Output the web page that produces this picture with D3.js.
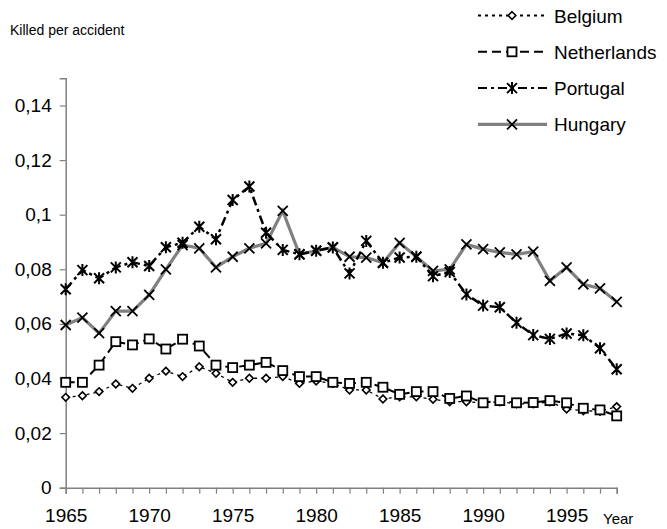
<!DOCTYPE html>
<html>
<head>
<meta charset="utf-8">
<script src="https://cdn.jsdelivr.net/npm/d3@7"></script>
<style>
  body { margin: 0; background: #fff; }
  svg { display: block; font-family: "Liberation Sans", Arial, sans-serif; }
</style>
</head>
<body>
<svg id="chart" width="667" height="529"></svg>
<script>
// data
const years = d3.range(1965, 1999);
const belgium = [0.0331, 0.0337, 0.0352, 0.0380, 0.0364, 0.0401, 0.0427, 0.0407, 0.0443, 0.0419,
  0.0386, 0.0401, 0.0401, 0.0407, 0.0382, 0.0391, 0.0382, 0.0358, 0.0358, 0.0325,
  0.0333, 0.0333, 0.0324, 0.0315, 0.0315, 0.0311, 0.0315, 0.0307, 0.0307, 0.0315,
  0.0288, 0.0282, 0.0280, 0.0297];
const netherlands = [0.0386, 0.0386, 0.0449, 0.0535, 0.0523, 0.0545, 0.0508, 0.0544, 0.0519, 0.0449,
  0.0440, 0.0449, 0.0459, 0.0429, 0.0407, 0.0407, 0.0386, 0.0382, 0.0386, 0.0368,
  0.0342, 0.0352, 0.0352, 0.0327, 0.0336, 0.0311, 0.0319, 0.0311, 0.0312, 0.0319,
  0.0311, 0.0291, 0.0285, 0.0263];
const portugal = [0.0727, 0.0797, 0.0767, 0.0807, 0.0826, 0.0812, 0.0881, 0.0897, 0.0956, 0.0910,
  0.1054, 0.1103, 0.0934, 0.0871, 0.0855, 0.0868, 0.0880, 0.0785, 0.0904, 0.0824,
  0.0843, 0.0846, 0.0775, 0.0790, 0.0708, 0.0667, 0.0661, 0.0604, 0.0559, 0.0545,
  0.0565, 0.0558, 0.0511, 0.0434];
const hungary = [0.0596, 0.0623, 0.0566, 0.0647, 0.0647, 0.0706, 0.0800, 0.0889, 0.0877, 0.0807,
  0.0846, 0.0877, 0.0895, 0.1014, 0.0855, 0.0868, 0.0880, 0.0846, 0.0843, 0.0824,
  0.0897, 0.0846, 0.0794, 0.0800, 0.0891, 0.0874, 0.0862, 0.0855, 0.0865, 0.0758,
  0.0807, 0.0745, 0.0730, 0.0681];
const yTicks = [0, 0.02, 0.04, 0.06, 0.08, 0.1, 0.12, 0.14];
const xLabels = [1965, 1970, 1975, 1980, 1985, 1990, 1995];

const series = [
  { name: "Belgium", values: belgium, color: "#000", width: 1.3, dash: "3,4", marker: "diamond" },
  { name: "Netherlands", values: netherlands, color: "#000", width: 2, dash: "9,5", marker: "square" },
  { name: "Portugal", values: portugal, color: "#000", width: 2.5, dash: "9,4,3,4", marker: "star" },
  { name: "Hungary", values: hungary, color: "#808080", width: 3.2, dash: null, marker: "cross" }
];

const svg = d3.select("#chart");
const locale = d3.formatLocale({ decimal: ",", thousands: ".", grouping: [3], currency: ["", ""] });
const fmt = locale.format("~g");

const x = d3.scaleLinear().domain([1965, 1998]).range([65.7, 616.7]);
const y = d3.scaleLinear().domain([0, 0.15]).range([487.7, 78.2]);

// axes
const yAxis = svg.append("g")
  .attr("transform", `translate(${x(1965)},0)`)
  .call(d3.axisLeft(y).tickValues(yTicks).tickFormat(fmt).tickSize(6).tickPadding(8));
const xAxis = svg.append("g")
  .attr("transform", `translate(0,${y(0)})`)
  .call(d3.axisBottom(x).tickValues(years).tickSize(6).tickPadding(15)
    .tickFormat(d => xLabels.includes(d) ? d : ""));
[yAxis, xAxis].forEach(g => {
  g.select(".domain").attr("stroke", "#808080").attr("stroke-width", 1.5);
  g.selectAll(".tick line").attr("stroke", "#808080").attr("stroke-width", 1.2);
  g.selectAll("text").attr("font-size", 19).attr("fill", "#000")
    .attr("font-family", "Liberation Sans, Arial, sans-serif");
});

svg.append("text").attr("x", 10).attr("y", 35)
  .attr("font-size", 14).text("Killed per accident");
svg.append("text").attr("x", 603).attr("y", 524)
  .attr("font-size", 15).text("Year");

function drawMarker(g, type) {
  if (type === "diamond") {
    g.append("path").attr("d", "M0,-3.8L3.8,0L0,3.8L-3.8,0Z")
      .attr("fill", "#fff").attr("stroke", "#000").attr("stroke-width", 1.6);
  } else if (type === "square") {
    g.append("rect").attr("x", -4.5).attr("y", -4.5).attr("width", 9).attr("height", 9)
      .attr("fill", "#fff").attr("stroke", "#000").attr("stroke-width", 1.8);
  } else if (type === "star") {
    g.append("path").attr("d", "M-5,-5L5,5M5,-5L-5,5M0,-6L0,6")
      .attr("stroke", "#000").attr("stroke-width", 2);
  } else {
    g.append("path").attr("d", "M-5,-5L5,5M5,-5L-5,5")
      .attr("stroke", "#000").attr("stroke-width", 1.8);
  }
}

const line = d3.line().x((d, i) => x(years[i])).y(d => y(d));

// lines first, Hungary at the bottom
const drawOrder = [series[3], series[0], series[1], series[2]];
drawOrder.forEach(s => {
  svg.append("path").datum(s.values)
    .attr("d", line)
    .attr("fill", "none")
    .attr("stroke", s.color)
    .attr("stroke-width", s.width)
    .attr("stroke-dasharray", s.dash);
});
drawOrder.forEach(s => {
  svg.append("g").selectAll("g")
    .data(s.values)
    .join("g")
    .attr("transform", (d, i) => `translate(${x(years[i])},${y(d)})`)
    .each(function () { drawMarker(d3.select(this), s.marker); });
});

// legend
const legend = svg.append("g");
series.forEach((s, i) => {
  const cy = 15.5 + i * 36.3;
  legend.append("line")
    .attr("x1", 478).attr("x2", 547).attr("y1", cy).attr("y2", cy)
    .attr("stroke", s.color).attr("stroke-width", s.marker === "cross" ? 3.2 : 2)
    .attr("stroke-dasharray", s.dash);
  drawMarker(legend.append("g").attr("transform", `translate(512,${cy})`), s.marker);
  legend.append("text").attr("x", 554).attr("y", cy + 7)
    .attr("font-size", 19).text(s.name);
});
</script>
</body>
</html>
